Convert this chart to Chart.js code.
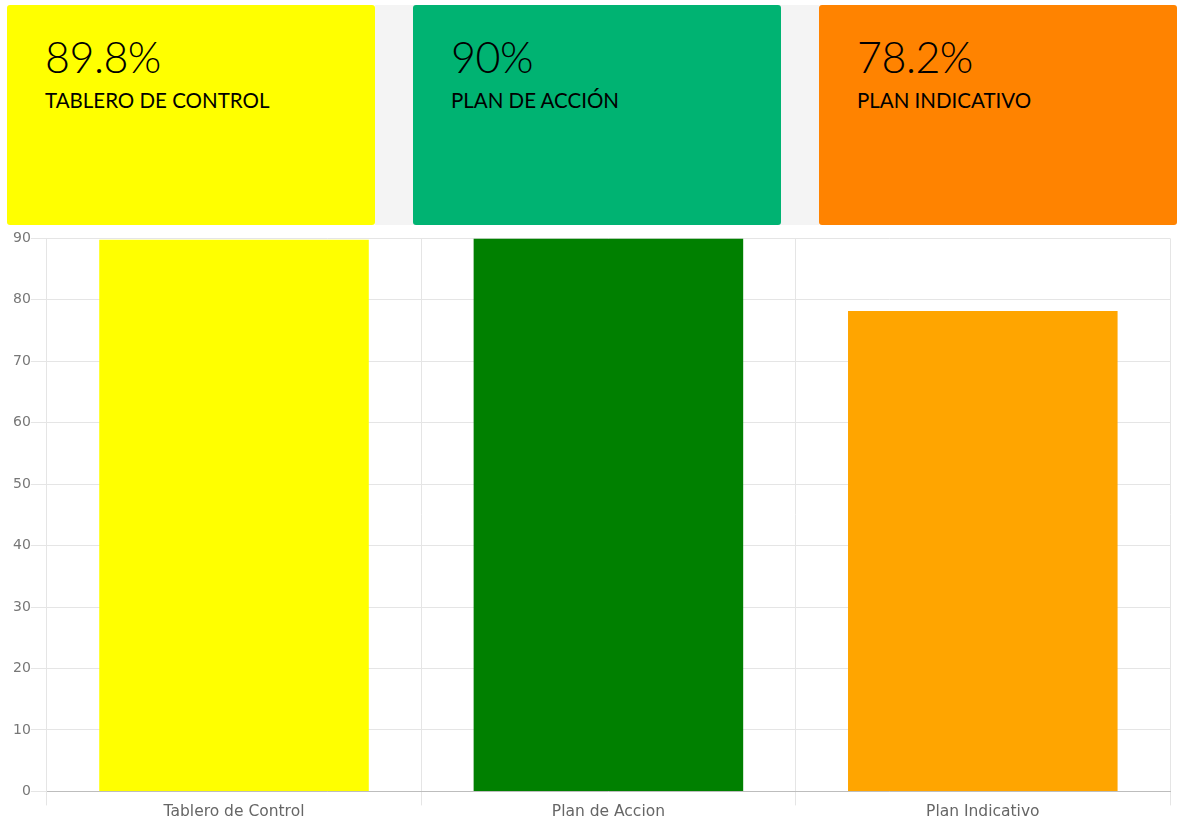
<!DOCTYPE html>
<html><head><meta charset="utf-8">
<script src="https://cdn.jsdelivr.net/npm/chart.js@4/dist/chart.umd.min.js"></script>
<style>
html,body{margin:0;padding:0;background:#fff;width:1177px;height:825px;overflow:hidden;font-family:"Lato","Noto Sans",sans-serif;}
#gaps{position:absolute;left:375px;top:5px;width:444px;height:220px;background:#f4f4f4;}
.card{position:absolute;top:5px;height:220px;border-radius:3px;box-sizing:border-box;color:#000;}
.card .v{position:absolute;left:38px;top:26px;font-size:43px;font-weight:300;letter-spacing:-0.5px;}
.card .t{position:absolute;left:38px;top:83px;font-size:20.5px;font-weight:400;}
#wrap{position:absolute;left:0;top:230px;width:1177px;height:588px;}
</style></head><body>
<div id="gaps"></div>
<div id="cards"></div>
<div id="wrap"><canvas id="c"></canvas></div>
<script>
const categories = ["Tablero de Control", "Plan de Accion", "Plan Indicativo"];
const cardTitles = ["TABLERO DE CONTROL", "PLAN DE ACCIÓN", "PLAN INDICATIVO"];
const values = [89.8, 90, 78.2];
const barColors = ["#ffff00", "#008000", "#ffa500"];
const cardColors = ["#ffff00", "#00b372", "#ff8300"];
const yTicks = [0, 10, 20, 30, 40, 50, 60, 70, 80, 90];

const cardLefts = [7, 413, 819];
const cardWidths = [368, 368, 358];
const cardsEl = document.getElementById('cards');
values.forEach((v, i) => {
  const d = document.createElement('div');
  d.className = 'card';
  d.style.left = cardLefts[i] + 'px';
  d.style.width = cardWidths[i] + 'px';
  d.style.background = cardColors[i];
  d.innerHTML = '<div class="v">' + v + '%</div><div class="t">' + cardTitles[i] + '</div>';
  cardsEl.appendChild(d);
});

new Chart(document.getElementById('c'), {
  type: 'bar',
  data: {
    labels: categories,
    datasets: [{ data: values, backgroundColor: barColors, borderWidth: 0 }]
  },
  options: {
    responsive: true,
    maintainAspectRatio: false,
    animation: false,
    layout: { padding: { right: 7, left: 13 } },
    plugins: { legend: { display: false }, tooltip: { enabled: false } },
    scales: {
      x: {
        grid: { color: '#e5e5e5', tickLength: 14, drawOnChartArea: true, offset: true },
        border: { color: '#bdbdbd' },
        ticks: { color: '#666', font: { family: 'DejaVu Sans', size: 15.5 }, padding: -3 }
      },
      y: {
        min: 0, max: 90,
        afterBuildTicks: (axis) => { axis.ticks = yTicks.map(v => ({ value: v })); },
        grid: { color: '#e5e5e5', tickLength: 16 },
        border: { color: '#e5e5e5' },
        ticks: { color: '#777', font: { family: 'DejaVu Sans', size: 14 }, padding: 0 }
      }
    }
  }
});
</script>
</body></html>
